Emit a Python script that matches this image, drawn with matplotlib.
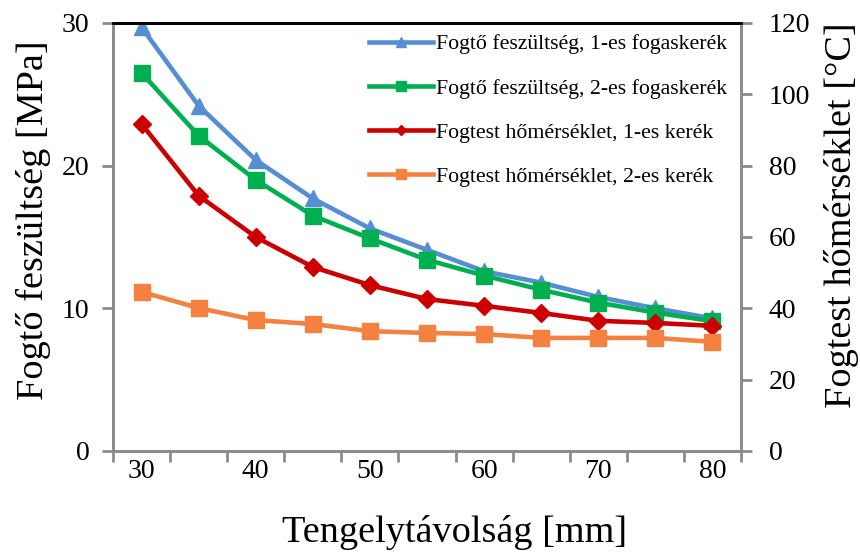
import matplotlib
matplotlib.use("Agg")
import matplotlib.pyplot as plt
import numpy as np

distance = [30, 35, 40, 45, 50, 55, 60, 65, 70, 75, 80]
stress_1 = [29.7, 24.2, 20.4, 17.7, 15.6, 14.1, 12.6, 11.8, 10.8, 10.0, 9.3]
stress_2 = [26.5, 22.1, 19.0, 16.5, 14.9, 13.4, 12.3, 11.3, 10.4, 9.7, 9.1]
temp_1 = [91.7, 71.6, 60.0, 51.6, 46.5, 42.6, 40.7, 38.7, 36.5, 35.9, 35.1]
temp_2 = [44.6, 40.1, 36.7, 35.6, 33.6, 33.1, 32.8, 31.7, 31.7, 31.7, 30.6]

labels = ["Fogtő feszültség, 1-es fogaskerék",
          "Fogtő feszültség, 2-es fogaskerék",
          "Fogtest hőmérséklet, 1-es kerék",
          "Fogtest hőmérséklet, 2-es kerék"]
x_ticks = [30, 40, 50, 60, 70, 80]
left_ticks = [0, 10, 20, 30]
right_ticks = [0, 20, 40, 60, 80, 100, 120]

plt.rcParams['font.family'] = ['Liberation Serif', 'DejaVu Serif']

c_blue = '#558ED5'
c_green = '#00B050'
c_red = '#CC0000'
c_orange = '#F58140'
gray = '#8C8C8C'

fig = plt.figure(figsize=(8.6, 5.53), dpi=100)
ax = fig.add_axes([113/860, 1-451/553, (741-113)/860, (451-23)/553])
ax2 = ax.twinx()

lw = 3.3
l1, = ax.plot(distance, stress_1, color=c_blue, lw=lw, marker='^', ms=12, label=labels[0])
l2, = ax.plot(distance, stress_2, color=c_green, lw=lw, marker='s', ms=11, label=labels[1])
l3, = ax2.plot(distance, temp_1, color=c_red, lw=lw, marker='D', ms=9, label=labels[2])
l4, = ax2.plot(distance, temp_2, color=c_orange, lw=lw, marker='s', ms=12, label=labels[3])

ax.set_xlim(27.5, 82.5)
ax.set_ylim(0, 30)
ax2.set_ylim(0, 120)
ax.set_xticks(x_ticks)
ax.set_xticks(np.arange(27.5, 83, 5), minor=True)
ax.tick_params(axis='x', which='major', length=0, pad=6, labelsize=20)
ax.tick_params(axis='x', which='minor', length=8, width=2, color=gray, direction='out')
ax.set_yticks(left_ticks)
ax.tick_params(axis='y', length=8, width=2, color=gray, labelsize=20, pad=9)
ax2.set_yticks(right_ticks)
ax2.tick_params(axis='y', length=8, width=2, color=gray, labelsize=20, pad=12)

for a in (ax, ax2):
    for s in ('left', 'right', 'bottom'):
        a.spines[s].set_color(gray)
        a.spines[s].set_linewidth(2)
    a.spines['top'].set_color('black')
    a.spines['top'].set_linewidth(2)

ax.set_xlabel("Tengelytávolság [mm]", fontsize=27.5, labelpad=22)
ax.xaxis.label.set_x((455-113)/628)
ax.set_ylabel("Fogtő feszültség [MPa]", fontsize=27.5, labelpad=8)
ax.yaxis.label.set_y((451-220)/428)
ax2.set_ylabel("Fogtest hőmérséklet [°C]", fontsize=27.5, labelpad=10)
ax2.yaxis.label.set_y((451-215)/428)

leg = ax.legend(handles=[l1, l2, l3, l4], loc='upper right',
                bbox_to_anchor=(727/860, 1-34/553), bbox_transform=fig.transFigure,
                borderpad=0, borderaxespad=0,
                frameon=False, fontsize=15.7, handlelength=2.9, handletextpad=0.15,
                labelspacing=1.1, markerscale=0.6)

fig.savefig('out.png', dpi=100)
